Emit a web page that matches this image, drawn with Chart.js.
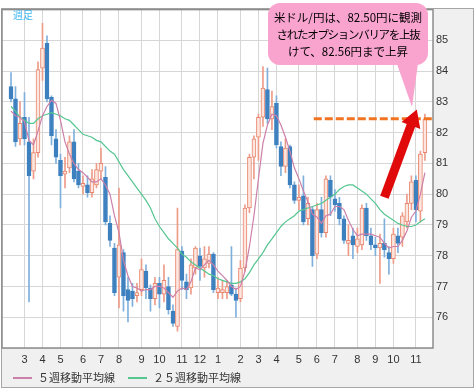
<!DOCTYPE html>
<html>
<head>
<meta charset="utf-8">
<script src="https://cdn.jsdelivr.net/npm/chart.js@4.4.0/dist/chart.umd.min.js"></script>
<style>
  html, body { margin:0; padding:0; background:#fff; }
  #wrap { position:relative; width:475px; height:390px; overflow:hidden; font-family:"Noto Sans CJK JP", sans-serif; }
  #wrap canvas { position:absolute; left:0; top:0; }
  #ashi { position:absolute; left:13px; top:9px; font-size:10px; line-height:12px; color:#3cb6f2; }
  #callout { position:absolute; left:0; top:0; pointer-events:none; }
  #callout-text { position:absolute; left:268px; top:9px; width:160px; text-align:center; font-size:11.5px; line-height:17px; color:#000; white-space:nowrap; }
  #callout-text .tight { letter-spacing:-1.3px; }
  .lg { position:absolute; top:370px; font-size:11px; line-height:14px; color:#333; white-space:nowrap; }
  .lg i { display:inline-block; width:19px; height:1.5px; vertical-align:middle; margin-right:6px; position:relative; top:-1px; }
</style>
</head>
<body>
<div id="wrap">
  <canvas id="chart" width="475" height="390"></canvas>
  <div id="ashi">週足</div>
  <svg id="callout" width="475" height="390">
    <rect x="268" y="3" width="160" height="62" rx="12" ry="12" fill="#f9a3cf"/>
    <polygon points="397,64 419,56 412,107" fill="#f9a3cf"/>
  </svg>
  <div id="callout-text">米ドル/円は、82.50円に観測<br><span class="tight">されたオプションバリアを上抜</span><br>けて、82.56円まで上昇</div>
  <div class="lg" style="left:13px"><i style="background:#cc7fa8"></i>５週移動平均線</div>
  <div class="lg" style="left:128px"><i style="background:#55c690"></i>２５週移動平均線</div>
</div>
<script>
// ===================================================
// DATA  (weekly USD/JPY, first candle = week of 2011-02-14)
// ===================================================
const open = [83.5,83.1,81.8,82.5,81.7,80.75,81.35,84.1,84.9,83.15,
  81.8,81.1,80.65,80.85,81.7,80.75,80.25,80.3,80.05,80.3,
  80.75,80.55,79.05,78.25,77.3,78.1,76.9,76.85,76.7,76.9,
  77.5,76.95,76.6,77.1,76.75,77.0,76.2,75.7,78.15,77.15,
  76.95,77.6,78.0,77.6,77.75,78.05,76.8,76.8,76.8,77.05,
  76.75,76.6,77.6,79.55,81.2,81.85,82.5,83.4,82.45,82.95,
  81.55,80.9,81.55,80.3,79.8,79.95,79.2,79.5,78.05,79.5,
  78.75,80.45,79.85,79.7,79.2,78.4,78.65,78.3,78.35,79.55,
  78.65,78.35,78.25,78.4,78.1,77.9,78.65,78.6,79.1,79.7,
  80.45,79.45,81.35];
const high = [83.95,83.5,83.0,83.3,82.5,81.8,84.3,85.55,85.15,83.2,
  82.1,81.3,81.2,81.9,82.1,81.0,80.6,80.6,80.8,81.0,
  81.5,80.9,79.3,78.4,80.2,78.2,77.3,77.1,77.1,77.9,
  77.7,77.05,77.3,77.3,77.7,77.3,76.4,79.55,78.3,77.4,
  77.9,78.3,78.25,78.3,78.3,78.1,77.3,77.2,77.2,78.3,
  76.95,77.85,79.65,81.3,81.9,82.6,84.15,84.1,83.35,83.2,
  81.7,81.8,81.6,80.4,80.3,80.6,79.9,79.6,79.7,79.9,
  80.6,80.6,80.15,79.9,79.3,79.0,78.9,78.9,79.65,79.7,
  78.9,78.6,78.7,79.2,78.3,78.9,78.9,79.4,80.0,80.6,
  80.6,81.4,82.6];
const low = [83.0,81.55,81.6,81.6,76.5,80.5,81.2,83.7,83.0,81.6,
  81.0,79.55,80.2,80.7,80.4,80.2,80.0,79.9,79.9,80.2,
  80.5,79.0,78.3,76.7,76.3,76.2,75.85,76.35,76.5,76.7,
  76.6,76.2,76.4,76.3,76.5,76.1,75.7,75.55,76.9,76.6,
  76.75,77.4,77.2,77.3,77.6,76.8,76.6,76.6,76.6,76.7,
  76.0,76.5,77.5,79.4,80.5,81.1,82.2,82.3,82.1,81.5,
  80.6,80.7,80.2,79.7,79.5,79.0,79.0,77.65,77.9,78.6,
  78.6,79.3,79.45,79.0,78.4,78.0,77.9,78.1,78.2,78.5,
  78.2,78.0,77.1,77.95,77.4,77.75,78.1,78.3,78.9,79.5,
  79.1,79.1,81.1];
const close = [83.1,81.7,82.3,81.8,80.6,81.35,84.05,84.75,83.1,81.9,
  81.2,80.6,80.75,81.7,80.5,80.3,80.35,80.05,80.5,80.8,
  81.0,79.1,78.5,76.8,78.35,76.7,76.55,76.6,76.8,77.55,
  76.95,76.6,77.1,76.75,77.2,76.25,75.8,78.2,77.2,76.9,
  77.7,78.25,77.65,77.9,78.05,76.9,76.95,76.9,77.0,76.75,
  76.55,77.6,79.55,81.2,81.8,82.5,83.45,82.45,82.85,81.6,
  80.9,81.5,80.3,79.8,79.9,79.1,79.7,78.0,79.5,78.75,
  80.5,79.9,79.65,79.2,78.5,78.5,78.35,78.55,79.55,78.65,
  78.35,78.25,78.4,78.2,77.9,78.7,78.4,79.3,79.7,80.4,
  79.5,81.3,82.45];
// 5-week moving average
const ma5 = [82.7,82.55,82.5,82.35,81.75,81.6,82.05,82.55,82.85,83.05,
  82.95,82.4,81.7,81.3,81.0,80.8,80.7,80.55,80.4,80.4,
  80.5,80.3,80.0,79.3,78.75,77.85,77.35,77.0,76.95,76.85,
  76.9,76.9,77.0,77.0,76.95,76.8,76.65,76.85,76.95,76.9,
  77.15,77.6,77.55,77.7,77.85,77.7,77.5,77.35,77.2,77.0,
  76.9,77.0,77.5,78.3,79.3,80.5,81.65,82.25,82.6,82.55,
  82.25,81.85,81.4,80.85,80.5,80.1,79.75,79.35,79.25,79.05,
  79.3,79.35,79.6,79.6,79.5,79.15,78.85,78.65,78.7,78.7,
  78.7,78.65,78.6,78.4,78.25,78.3,78.3,78.5,78.8,79.25,
  79.45,80.0,80.7];
// 25-week moving average
const ma25 = [82.85,82.7,82.5,82.4,82.3,82.3,82.45,82.55,82.6,82.65,
  82.6,82.55,82.45,82.4,82.25,82.1,81.95,81.9,81.85,81.75,
  81.7,81.55,81.4,81.3,81.05,80.8,80.6,80.4,80.2,80.0,
  79.8,79.55,79.2,78.95,78.75,78.55,78.4,78.25,78.05,77.95,
  77.8,77.7,77.6,77.5,77.4,77.35,77.25,77.2,77.15,77.1,
  77.1,77.15,77.25,77.45,77.7,77.9,78.1,78.35,78.55,78.75,
  78.95,79.1,79.2,79.3,79.45,79.5,79.55,79.6,79.65,79.7,
  79.8,79.9,80.0,80.15,80.25,80.3,80.3,80.2,80.1,80.0,
  79.85,79.7,79.5,79.35,79.25,79.15,79.05,79.0,78.95,78.95,
  79.0,79.1,79.2];
// first week of each month (candle index) and its label
const monthIdx    = [3,7,11,16,20,24,29,33,38,42,46,51,55,59,64,68,72,77,81,85,90];
const monthLabels = ['3','4','5','6','7','8','9','10','11','12','1','2','3','4','5','6','7','8','9','10','11'];
const barrierLevel = 82.45;

// ===================================================
// COLOURS
// ===================================================
const UP_LINE = '#e8856c', UP_FILL = '#fde6df', UP_WICK = '#ee9c88';
const DN_BODY = '#3d80bf', DN_WICK = '#7fb0dc';
const MA5_COL = '#cc7fa8', MA25_COL = '#55c690';
const isUp = i => close[i] >= open[i];

// ===================================================
// FRAME + ANNOTATIONS
// ===================================================
function drawArrow(ctx, x0, y0, x1, y1, w, headLen, headW) {
  const ang = Math.atan2(y1 - y0, x1 - x0);
  const L = Math.hypot(x1 - x0, y1 - y0);
  ctx.save();
  ctx.translate(x0, y0); ctx.rotate(ang);
  ctx.beginPath();
  ctx.moveTo(0, -w/2); ctx.lineTo(L - headLen, -w/2); ctx.lineTo(L - headLen, -headW/2);
  ctx.lineTo(L, 0);
  ctx.lineTo(L - headLen, headW/2); ctx.lineTo(L - headLen, w/2); ctx.lineTo(0, w/2);
  ctx.closePath();
  ctx.fillStyle = '#e10a0a'; ctx.fill();
  ctx.restore();
}

const framePlugin = {
  id: 'frame',
  beforeDraw(chart) {
    const {ctx, chartArea: a} = chart;
    ctx.save();
    ctx.fillStyle = '#fff'; ctx.fillRect(0, 0, chart.width, chart.height);
    ctx.fillStyle = '#f0f0f0'; ctx.fillRect(2, 8, 471, 379);
    ctx.fillStyle = '#fff'; ctx.fillRect(a.left, a.top, a.right - a.left, a.bottom - a.top);
    ctx.restore();
  },
  afterDatasetsDraw(chart) {
    const {ctx, chartArea: a, scales: {x, y}} = chart;
    ctx.save();
    // barrier line
    const yb = y.getPixelForValue(barrierLevel);
    ctx.setLineDash([8, 3]);
    ctx.strokeStyle = '#f07422'; ctx.lineWidth = 3;
    ctx.beginPath(); ctx.moveTo(x.getPixelForValue(67.3), yb); ctx.lineTo(a.right - 1, yb); ctx.stroke();
    ctx.setLineDash([]);
    // red arrow
    drawArrow(ctx, x.getPixelForValue(83.0), y.getPixelForValue(79.9),
                   x.getPixelForValue(90.2), y.getPixelForValue(82.75), 9, 17, 20);
    ctx.restore();
  },
  afterDraw(chart) {
    const {ctx, chartArea: a} = chart;
    ctx.save();
    ctx.strokeStyle = '#a6a6a6'; ctx.lineWidth = 1;
    ctx.strokeRect(1.5, 8.5, 472, 379);
    ctx.strokeStyle = '#8c8c8c'; ctx.lineWidth = 1.5;
    ctx.strokeRect(a.left, a.top, a.right - a.left, a.bottom - a.top);
    ctx.restore();
  }
};

// ===================================================
// CHART
// ===================================================
Chart.defaults.font.family = '"Liberation Sans", Arial, sans-serif';
Chart.defaults.font.size = 11;
Chart.defaults.color = '#333';

new Chart(document.getElementById('chart'), {
  type: 'bar',
  data: {
    datasets: [
      {type:'line', label:'５週移動平均線', data: ma5.map((v,i)=>({x:i, y:v})),
       borderColor: MA5_COL, borderWidth: 1.2, pointRadius: 0, tension: 0, order: 0},
      {type:'line', label:'２５週移動平均線', data: ma25.map((v,i)=>({x:i, y:v})),
       borderColor: MA25_COL, borderWidth: 1.2, pointRadius: 0, tension: 0, order: 0},
      {label:'body', data: open.map((o,i)=>({x:i, y:[o, close[i]]})),
       backgroundColor: c => isUp(c.dataIndex) ? UP_FILL : DN_BODY,
       borderColor: c => isUp(c.dataIndex) ? UP_LINE : DN_BODY,
       borderWidth: 1, borderSkipped: false, barThickness: 4, grouped: false, order: 1},
      {label:'wick', data: low.map((l,i)=>({x:i, y:[l, high[i]]})),
       backgroundColor: c => isUp(c.dataIndex) ? UP_WICK : DN_WICK,
       borderWidth: 0, barThickness: 1, grouped: false, order: 2}
    ]
  },
  options: {
    responsive: false, animation: false,
    layout: {padding: {left: 2, top: 8, right: 0, bottom: 0}},
    plugins: {legend: {display: false}, tooltip: {enabled: false}},
    scales: {
      x: {
        type: 'linear', min: -2, max: 93.8, offset: false,
        grid: {color: '#d6d6d6', lineWidth: 1, drawTicks: false, offset: false},
        border: {display: false},
        afterBuildTicks: s => { s.ticks = monthIdx.map(v => ({value: v})); },
        afterFit: s => { s.height = 42; },
        ticks: {autoSkip: false, maxRotation: 0, minRotation: 0, padding: 5,
                callback: (v, i) => monthLabels[i]}
      },
      y: {
        position: 'right', min: 75, max: 86,
        grid: {color: '#d6d6d6', lineWidth: 1, drawTicks: false},
        border: {display: false},
        afterFit: s => { s.width = 42; },
        ticks: {stepSize: 1, padding: 3, callback: v => (v === 75 || v === 86) ? '' : v}
      }
    }
  },
  plugins: [framePlugin]
});
</script>
</body>
</html>
